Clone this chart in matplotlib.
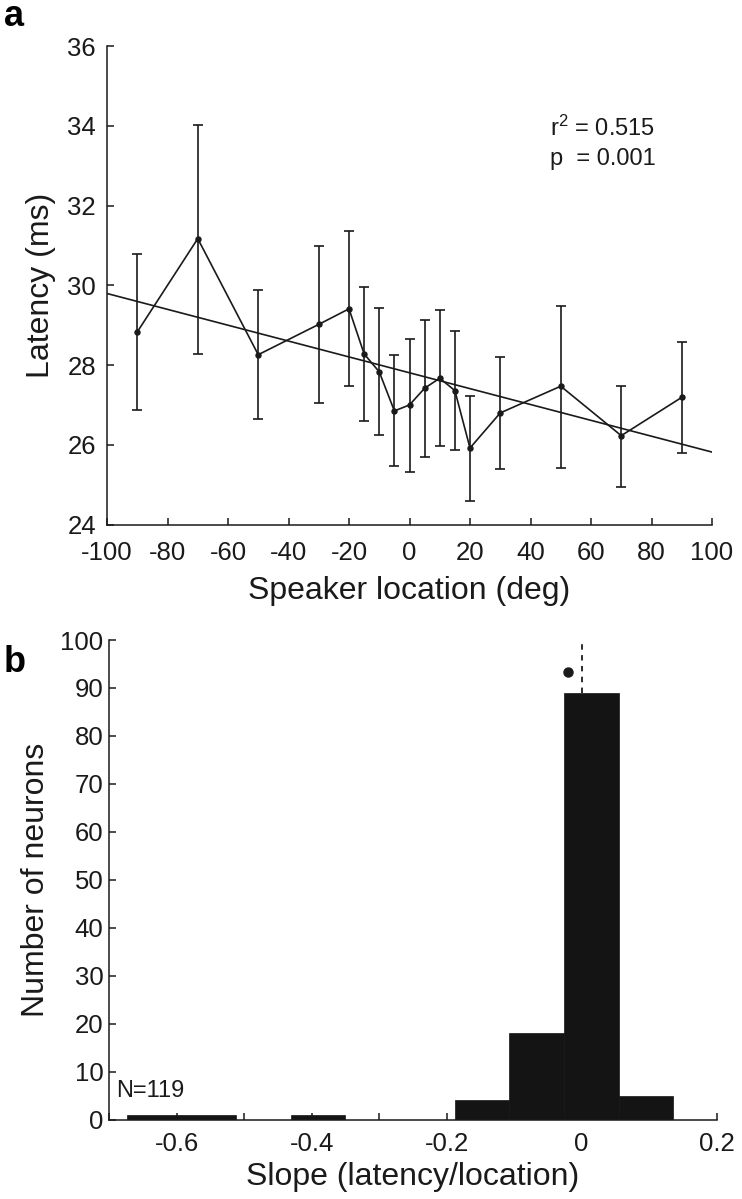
import numpy as np
import matplotlib
matplotlib.use("Agg")
import matplotlib.pyplot as plt

plt.rcParams['font.family'] = ['Liberation Sans', 'DejaVu Sans']
plt.rcParams['mathtext.fontset'] = 'custom'
plt.rcParams['mathtext.rm'] = 'Liberation Sans'
plt.rcParams['mathtext.it'] = 'Liberation Sans'

# ---- Panel a data ----
speaker_deg = [-90, -70, -50, -30, -20, -15, -10, -5, 0, 5, 10, 15, 20, 30, 50, 70, 90]
latency_ms = [28.83, 31.17, 28.26, 29.02, 29.41, 28.28, 27.83, 26.85, 27.00,
              27.42, 27.67, 27.36, 25.92, 26.80, 27.47, 26.23, 27.19]
err_top = [30.79, 34.03, 29.89, 30.98, 31.37, 29.95, 29.42, 28.24, 28.66,
           29.13, 29.37, 28.85, 27.23, 28.20, 29.48, 27.48, 28.59]
err_bot = [26.87, 28.29, 26.64, 27.04, 27.47, 26.60, 26.24, 25.46, 25.33,
           25.70, 25.97, 25.87, 24.59, 25.40, 25.43, 24.95, 25.80]
stats_text = ["r$^2$ = 0.515", "p  = 0.001"]
xticks_a = [-100, -80, -60, -40, -20, 0, 20, 40, 60, 80, 100]
yticks_a = [24, 26, 28, 30, 32, 34, 36]

# ---- Panel b data ----
bin_edges = [-0.674, -0.593, -0.512, -0.431, -0.350, -0.269, -0.188,
             -0.107, -0.026, 0.055, 0.136]
bin_counts = [1, 1, 0, 1, 0, 0, 4, 18, 89, 5]
mean_slope = -0.0203
mean_marker_y = 93.4
n_text = "N=119"
xticks_b = [-0.7, -0.6, -0.5, -0.4, -0.3, -0.2, -0.1, 0.0, 0.1, 0.2]
xticklabels_b = ["", "-0.6", "", "-0.4", "", "-0.2", "", "0", "", "0.2"]
yticks_b = [0, 10, 20, 30, 40, 50, 60, 70, 80, 90, 100]

W, H = 742, 1199
fig = plt.figure(figsize=(W / 100, H / 100), dpi=100)

col = '#1a1a1a'
tick_fs = 18.5

def style(ax):
    for s in ['top', 'right']:
        ax.spines[s].set_visible(False)
    for s in ['left', 'bottom']:
        ax.spines[s].set_linewidth(1.1)
        ax.spines[s].set_color(col)
    ax.tick_params(direction='in', length=5, width=1.1, colors=col,
                   labelsize=tick_fs)
    ax.tick_params(axis='x', pad=12)
    ax.tick_params(axis='y', pad=8)

# Panel a
axa = fig.add_axes([107 / W, 1 - 524.6 / H, 605 / W, 478.6 / H])
style(axa)
x = np.array(speaker_deg, dtype=float)
y = np.array(latency_ms)
yerr = np.vstack([y - np.array(err_bot), np.array(err_top) - y])
axa.errorbar(x, y, yerr=yerr, fmt='none', ecolor=col, elinewidth=1.2,
             capsize=3.3, capthick=1.2, zorder=2)
axa.plot(x, y, '-', color=col, lw=1.2, marker='o', ms=3.6, zorder=3)
coef = np.polyfit(x, y, 1)
xf = np.array([xticks_a[0], xticks_a[-1]], dtype=float)
axa.plot(xf, np.polyval(coef, xf), '-', color=col, lw=1.2, zorder=2)
axa.set_xlim(-100, 100)
axa.set_ylim(24, 36)
axa.set_xticks(xticks_a)
axa.set_yticks(yticks_a)
axa.set_xticklabels([str(v) for v in xticks_a])
axa.set_yticklabels([str(v) for v in yticks_a])
axa.set_xlabel("Speaker location (deg)", fontsize=23, labelpad=8, color=col)
axa.set_ylabel("Latency (ms)", fontsize=23, labelpad=8, color=col)
fig.text(550 / W, 1 - 128 / H, stats_text[0], fontsize=17, va='center', ha='left', color=col)
fig.text(550 / W, 1 - 159 / H, stats_text[1], fontsize=17, va='center', ha='left', color=col)

# Panel b
axb = fig.add_axes([109 / W, 1 - 1119.5 / H, 607.7 / W, 479.5 / H])
style(axb)
edges = np.array(bin_edges)
axb.bar(edges[:-1], bin_counts, width=np.diff(edges), align='edge',
        color='#141414', edgecolor='#141414', lw=0.5, zorder=2)
axb.plot([0, 0], [bin_counts[8], 100], ls=(0, (3, 3)), color=col, lw=1.3, zorder=3)
axb.plot([mean_slope], [mean_marker_y], 'o', color=col, ms=6.5, zorder=3)
axb.set_xlim(-0.7, 0.2)
axb.set_ylim(0, 100)
axb.set_xticks(xticks_b)
axb.set_xticklabels(xticklabels_b)
axb.set_yticks(yticks_b)
axb.set_yticklabels([str(v) for v in yticks_b])
axb.tick_params(axis='x', pad=9)
axb.tick_params(axis='y', pad=4)
axb.set_xlabel("Slope (latency/location)", fontsize=23, labelpad=4, color=col)
axb.set_ylabel("Number of neurons", fontsize=23, labelpad=7, color=col)
fig.text(116 / W, 1 - 1091 / H, n_text, fontsize=17, va='center', ha='left', color=col)

# Panel letters
fig.text(4 / W, 1 - 17 / H, "a", fontsize=26, fontweight='bold', va='center', ha='left')
fig.text(4 / W, 1 - 663 / H, "b", fontsize=26, fontweight='bold', va='center', ha='left')

fig.savefig("out.png", dpi=100)
